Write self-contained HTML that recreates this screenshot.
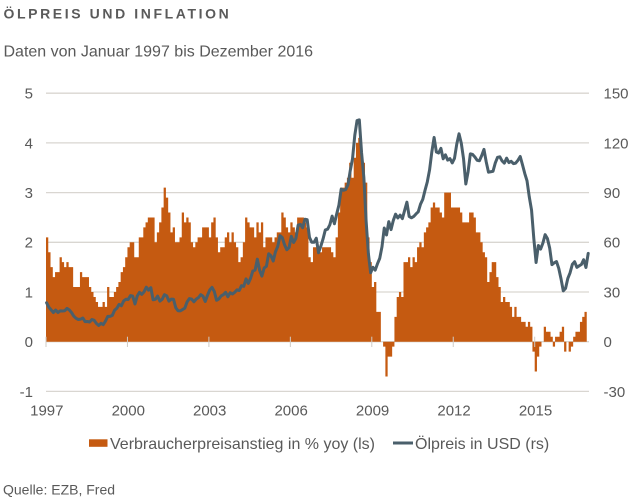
<!DOCTYPE html>
<html>
<head>
<meta charset="utf-8">
<style>
  html,body{margin:0;padding:0;background:#fff;}
  body{width:632px;height:502px;overflow:hidden;}
  svg{display:block;}
  text{font-family:"Liberation Sans",Arial,sans-serif;fill:#595959;}
</style>
</head>
<body>
<svg id="c" width="632" height="502" viewBox="0 0 632 502" xmlns="http://www.w3.org/2000/svg">
  <text x="3.5" y="18.3" style="font-size:14px;font-weight:bold;letter-spacing:2.6px;fill:#5a5a5a">ÖLPREIS UND INFLATION</text>
  <text x="3.5" y="56.7" style="font-size:16px">Daten von Januar 1997 bis Dezember 2016</text>

  <g id="grid" stroke="#d9d6d1" stroke-width="1.3"></g>
  <path id="bars" fill="#c55a11" stroke="none"></path>
  <g id="ticks" stroke="#cfcbc6" stroke-width="1"></g>
  <path id="oil" fill="none" stroke="#4a5f6b" stroke-width="3" stroke-linejoin="round" stroke-linecap="round"></path>

  <g id="lab" style="font-size:15px"></g>

  <rect x="89" y="439.3" width="18.5" height="7.5" fill="#c55a11"></rect>
  <text x="110" y="449" style="font-size:16px">Verbraucherpreisanstieg in % yoy (ls)</text>
  <line x1="393" y1="443" x2="413" y2="443" stroke="#4a5f6b" stroke-width="3"></line>
  <text x="415" y="449" style="font-size:16px">Ölpreis in USD (rs)</text>

  <text x="3" y="494.5" style="font-size:14px">Quelle: EZB, Fred</text>
</svg>
<script>
(function(){
  var NS="http://www.w3.org/2000/svg";
  var X0=46, X1=589, Y0=341.7, U=49.7;
  var w=(X1-X0)/240;
  var cpi=[
  2.1,1.8,1.5,1.3,1.4,1.4,1.7,1.6,1.5,1.6,1.5,1.5,
  1.1,1.1,1.1,1.4,1.3,1.3,1.3,1.1,1.0,0.9,0.8,0.7,
  0.7,0.8,0.7,1.1,0.9,0.9,1.0,1.1,1.2,1.4,1.5,1.7,
  1.9,2.0,2.0,1.7,1.7,2.1,2.1,2.3,2.4,2.5,2.5,2.5,
  2.0,2.2,2.4,2.7,3.1,2.9,2.6,2.2,2.3,2.0,2.0,2.1,
  2.6,2.4,2.5,2.4,2.0,1.9,2.0,2.1,2.1,2.3,2.3,2.3,
  2.1,2.4,2.5,2.1,1.8,1.9,1.9,2.1,2.2,2.0,2.2,2.0,
  1.9,1.6,1.7,2.0,2.5,2.4,2.3,2.3,2.1,2.4,2.2,2.4,
  1.9,2.1,2.1,2.1,2.0,2.1,2.2,2.2,2.6,2.5,2.3,2.2,
  2.4,2.3,2.2,2.5,2.5,2.5,2.4,2.3,1.7,1.6,1.9,1.9,
  1.8,1.8,1.9,1.9,1.9,1.9,1.8,1.7,2.1,2.6,3.1,3.1,
  3.2,3.3,3.6,3.3,3.7,4.0,4.1,3.8,3.6,3.2,2.1,1.6,
  1.1,1.2,0.6,0.6,0.0,-0.1,-0.7,-0.3,-0.3,-0.1,0.5,0.9,
  1.0,0.9,1.6,1.6,1.7,1.5,1.7,1.6,1.9,2.0,1.9,2.2,
  2.3,2.4,2.7,2.8,2.7,2.7,2.6,2.5,3.0,3.0,3.0,2.7,
  2.7,2.7,2.7,2.6,2.4,2.4,2.4,2.6,2.6,2.5,2.2,2.2,
  2.0,1.8,1.7,1.2,1.4,1.6,1.6,1.3,1.1,0.8,0.9,0.8,
  0.8,0.7,0.5,0.7,0.5,0.5,0.4,0.4,0.3,0.4,0.3,-0.2,
  -0.6,-0.3,-0.1,0.0,0.3,0.2,0.2,0.1,-0.1,0.1,0.1,0.2,
  0.3,-0.2,0.0,-0.2,-0.1,0.1,0.2,0.2,0.4,0.5,0.6
  ];
  var oil=[
  23.5,20.8,19.2,17.6,19.1,17.6,18.6,18.5,18.7,20.1,19.2,17.6,
  15.4,14.1,13.4,13.6,14.3,12.1,12.2,11.9,13.4,12.9,11.0,9.8,
  11.1,10.3,12.5,15.3,15.3,15.9,19.0,20.2,22.5,21.7,24.6,25.6,
  25.5,27.8,27.5,22.8,27.6,29.8,28.6,30.1,32.9,31.1,32.6,25.3,
  25.6,27.5,24.5,25.6,28.4,27.7,24.5,25.7,25.6,20.5,18.7,18.6,
  19.4,20.3,24.0,26.0,25.7,24.1,25.7,26.6,28.4,27.5,24.3,28.0,
  31.2,32.8,30.3,25.0,25.8,27.6,28.4,29.8,27.1,29.6,28.8,29.8,
  31.3,30.9,33.8,33.4,37.9,35.2,38.2,42.7,43.2,49.8,43.1,39.6,
  44.5,45.5,53.1,51.9,48.7,54.3,57.5,64.0,62.9,58.5,55.5,56.8,
  63.6,59.9,62.3,70.4,70.8,68.8,73.9,73.6,63.0,60.0,60.0,62.5,
  53.7,57.6,62.1,67.5,67.9,70.6,75.8,71.2,77.0,82.5,92.1,91.4,
  91.9,94.8,103.3,110.4,124.6,133.5,133.9,113.9,99.1,72.8,53.2,41.6,
  44.9,43.2,47.0,50.3,57.3,68.6,64.4,72.5,67.7,73.2,77.0,74.7,
  76.4,74.3,79.3,84.2,75.6,74.8,75.6,77.1,78.4,83.0,85.9,91.4,
  96.5,103.7,114.6,123.3,114.5,113.9,116.7,110.4,112.8,109.6,110.5,107.9,
  110.7,119.3,125.5,119.8,110.3,95.2,102.6,113.4,113.0,111.5,109.5,109.2,
  112.3,116.1,108.5,102.3,102.6,102.9,107.9,111.3,111.6,109.1,107.8,110.8,
  108.1,108.9,107.5,107.8,109.5,111.8,106.8,101.6,97.1,87.4,79.4,62.3,
  47.8,58.1,55.9,59.5,64.6,62.3,56.5,46.5,47.6,48.4,44.3,38.0,
  30.7,32.2,38.2,41.6,46.7,48.3,44.9,45.8,46.6,49.5,44.8,53.3
  ];
  function el(tag,attrs,txt){var e=document.createElementNS(NS,tag);for(var k in attrs)e.setAttribute(k,attrs[k]);if(txt!=null)e.textContent=txt;return e;}
  var g=document.getElementById('grid');
  var lab=document.getElementById('lab');
  for(var v=5;v>=-1;v--){
    var y=Y0-v*U;
    g.appendChild(el('line',{x1:X0,x2:X1,y1:y.toFixed(2),y2:y.toFixed(2)}));
    lab.appendChild(el('text',{x:33,y:(y+5.4).toFixed(2),'text-anchor':'end'},String(v)));
    lab.appendChild(el('text',{x:603.5,y:(y+5.4).toFixed(2)},String(v*30)));
  }
  var d='M'+X0+','+Y0;
  for(var i=0;i<cpi.length;i++){
    var x0=X0+i*w,x1=x0+w,yy=Y0-cpi[i]*U;
    d+='L'+x0.toFixed(2)+','+yy.toFixed(2)+'L'+x1.toFixed(2)+','+yy.toFixed(2);
  }
  d+='L'+(X0+cpi.length*w).toFixed(2)+','+Y0+'Z';
  document.getElementById('bars').setAttribute('d',d);
  var p='';
  var step=(X1-0.8-X0-0.6)/239;
  for(var j=0;j<oil.length;j++){
    var xx=X0+0.6+j*step, y2=Y0-oil[j]*U/30;
    p+=(j?'L':'M')+xx.toFixed(2)+','+y2.toFixed(2);
  }
  document.getElementById('oil').setAttribute('d',p);
  var t=document.getElementById('ticks');
  var years=[1997,2000,2003,2006,2009,2012,2015];
  for(var k=0;k<years.length;k++){
    var x=X0+(years[k]-1997)*12*w;
    t.appendChild(el('line',{x1:x.toFixed(2),x2:x.toFixed(2),y1:336.7,y2:347}));
    lab.appendChild(el('text',{x:(x+0.8).toFixed(2),y:415.5,'text-anchor':'middle'},String(years[k])));
  }
})();
</script>
</body>
</html>
